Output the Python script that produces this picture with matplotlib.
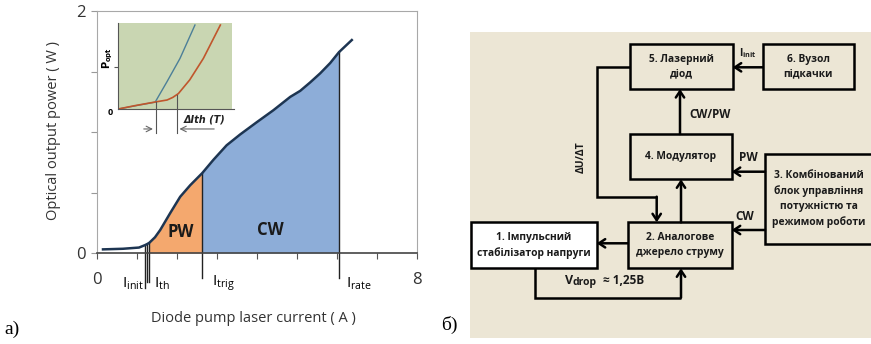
import numpy as np
import matplotlib
matplotlib.use("Agg")
import matplotlib.pyplot as plt

plt.rcParams['font.family'] = ['Open Sans', 'DejaVu Sans']

# --- a) laser diode power vs pump current ---
cur_x = np.array([0.15, 0.65, 1.05, 1.2, 1.26, 1.31, 1.45, 1.58, 1.83, 2.08, 2.33, 2.63,
                  2.91, 3.24, 3.58, 3.99, 4.41, 4.83, 5.08, 5.33, 5.58, 5.83, 6.05, 6.37])
cur_y = np.array([0.03, 0.035, 0.045, 0.065, 0.075, 0.085, 0.13, 0.19, 0.33, 0.465, 0.56, 0.66,
                  0.77, 0.89, 0.98, 1.08, 1.18, 1.29, 1.34, 1.41, 1.485, 1.57, 1.66, 1.76])
i_init, i_th1, i_th2, i_trig, i_rate = 1.2, 1.26, 1.31, 2.63, 6.05

# inset: P_opt(I) at two temperatures (relative units)
ins_blue_x = [0.0, 0.2, 0.325, 0.43, 0.544, 0.676]
ins_blue_y = [0.0, 0.05, 0.08, 0.32, 0.59, 0.98]
ins_red_x = [0.0, 0.15, 0.34, 0.43, 0.48, 0.53, 0.63, 0.75, 0.9]
ins_red_y = [0.0, 0.04, 0.085, 0.105, 0.135, 0.18, 0.34, 0.59, 0.98]

fig = plt.figure(figsize=(8.71, 3.44), dpi=100)

ax = fig.add_axes([97 / 871, 91 / 344, 320 / 871, 242 / 344])
ax.plot(cur_x, cur_y, color='#1d3552', lw=1.8, zorder=4, solid_joinstyle='round')
m1 = (cur_x >= i_th2) & (cur_x <= i_trig)
m2 = (cur_x >= i_trig) & (cur_x <= i_rate)
ax.fill_between(cur_x[m1], 0, cur_y[m1], color='#f4a86e', lw=0)
ax.fill_between(cur_x[m2], 0, cur_y[m2], color='#8dadd8', lw=0)
ax.set_xlim(0, 8)
ax.set_ylim(0, 2)

# marker lines
ax.plot([i_init, i_init], [-0.29, 0.065], color='#222', lw=1, clip_on=False)
ax.plot([i_th1, i_th1], [-0.24, 0.075], color='#222', lw=1, clip_on=False)
ax.plot([i_th2, i_th2], [-0.24, 0.085], color='#222', lw=1, clip_on=False)
ax.plot([i_trig, i_trig], [-0.21, 0.66], color='#222', lw=1, clip_on=False)
ax.plot([i_rate, i_rate], [-0.21, 1.66], color='#222', lw=1, clip_on=False)
ax.text(1.17, -0.25, r'I$_{\mathregular{init}}$', ha='right', va='center', fontsize=11)
ax.text(1.42, -0.25, r'I$_{\mathregular{th}}$', ha='left', va='center', fontsize=11)
ax.text(2.88, -0.25, r'I$_{\mathregular{trig}}$', ha='left', va='center', fontsize=11)
ax.text(6.22, -0.25, r'I$_{\mathregular{rate}}$', ha='left', va='center', fontsize=11)

ax.text(2.1, 0.17, 'PW', ha='center', va='center', fontsize=12, fontweight='bold', color='#1a1a1a')
ax.text(4.33, 0.19, 'CW', ha='center', va='center', fontsize=12, fontweight='bold', color='#1a1a1a')

for s in ['top', 'right', 'left']:
    ax.spines[s].set_color('#a8a8a8')
ax.spines['bottom'].set_color('#444')
ax.spines['bottom'].set_linewidth(1.2)
ax.set_xticks(range(9))
ax.set_xticklabels(['0', '', '', '', '', '', '', '', '8'])
ax.set_yticks([0, 0.5, 1, 1.5, 2])
ax.set_yticklabels(['0', '', '', '', '2'])
ax.tick_params(axis='x', length=4, color='#555', pad=10, labelsize=12, labelcolor='#333')
ax.tick_params(axis='y', length=4, color='#999', pad=4, labelsize=12, labelcolor='#333')
ax.set_xlabel('Diode pump laser current ( A )', fontsize=10.5, color='#333')
ax.xaxis.set_label_coords(0.4875, -0.238)
ax.set_ylabel('Optical output power ( W )', fontsize=10.5, color='#333')
ax.yaxis.set_label_coords(-0.112, 0.508)

# inset
ins = fig.add_axes([118.3 / 871, 235 / 344, 113.4 / 871, 85.7 / 344])
ins.set_facecolor('#c9d6b2')
ins.plot(ins_blue_x, ins_blue_y, color='#4c7f98', lw=1)
ins.plot(ins_red_x, ins_red_y, color='#c0562c', lw=1.2)
ins.set_xlim(0, 1)
ins.set_ylim(0, 1)
ins.spines['top'].set_visible(False)
ins.spines['right'].set_visible(False)
ins.spines['left'].set_color('#555')
ins.spines['bottom'].set_color('#555')
ins.spines['bottom'].set_bounds(0, 1.02)
ins.set_xticks([])
ins.set_yticks([0.49])
ins.set_yticklabels([''])
ins.tick_params(axis='y', length=3, color='#555')
ins.text(-0.07, -0.04, '0', ha='center', va='center', fontsize=6.5, fontweight='bold')
ins.text(-0.09, 0.6, r'$\mathbf{P_{opt}}$', rotation=90, ha='center', va='center', fontsize=7)
ins.plot([0.33, 0.33], [-0.28, 0.085], color='#555', lw=0.8, clip_on=False)
ins.plot([0.515, 0.515], [-0.28, 0.16], color='#555', lw=0.8, clip_on=False)
ins.annotate('', xy=(0.33, -0.233), xytext=(0.2, -0.233), annotation_clip=False,
             arrowprops=dict(arrowstyle='->', color='#666', lw=0.8))
ins.annotate('', xy=(0.515, -0.233), xytext=(0.87, -0.233), annotation_clip=False,
             arrowprops=dict(arrowstyle='->', color='#666', lw=0.8))
ins.text(0.76, -0.12, 'ΔIth (T)', ha='center', va='center', fontsize=7,
         family='DejaVu Sans', style='italic', fontweight='bold', color='#222')

# --- б) block diagram, drawn in pixel coordinates ---
dg = fig.add_axes([0, 0, 1, 1], zorder=-1)
dg.set_xlim(0, 871)
dg.set_ylim(344, 0)
dg.axis('off')

bg = '#ece6d5'
dg.add_patch(plt.Rectangle((470, 32), 401, 306, color=bg, lw=0))

boxes = [
    ((630, 44.3, 102.7, 44.7), '5. Лазерний\nдіод', bg),
    ((762.7, 44.3, 91.3, 44.7), '6. Вузол\nпідкачки', bg),
    ((630, 134, 101.7, 45.3), '4. Модулятор', bg),
    ((765, 154.3, 110, 89.7), '3. Комбінований\nблок управління\nпотужністю та\nрежимом роботи', bg),
    ((627.7, 222.3, 104, 46), '2. Аналогове\nджерело струму', bg),
    ((470.5, 222.3, 126.2, 46), '1. Імпульсний\nстабілізатор напруги', 'white'),
]
for (x0, y0, w, h), label, fc in boxes:
    dg.add_patch(plt.Rectangle((x0, y0), w, h, facecolor=fc, edgecolor='black', lw=1.8, zorder=2))
    cx = x0 + w / 2 if x0 + w <= 871 else (x0 + 871) / 2 + 1
    dg.text(cx, y0 + h / 2, label, ha='center', va='center', fontsize=7.4,
            fontweight='bold', color='#1a1a1a', linespacing=1.45, zorder=3)

arr = dict(arrowstyle='->,head_length=0.45,head_width=0.3', color='black', lw=1.8,
           shrinkA=0, shrinkB=0)
arrows = [
    ((762.7, 67.3), (732.7, 67.3)),
    ((680, 134), (680, 89)),
    ((681, 222.3), (681, 179.3)),
    ((765, 171.7), (731.7, 171.7)),
    ((765, 230), (731.7, 230)),
    ((627.7, 243.3), (596.7, 243.3)),
    ((656.7, 196.7), (656.7, 222.3)),
    ((681, 297.7), (681, 268.3)),
]
for start, end in arrows:
    dg.annotate('', xy=end, xytext=start, arrowprops=arr, zorder=3)
dg.plot([630, 597.3, 597.3, 656.7], [67.3, 67.3, 196.7, 196.7], color='black', lw=1.8,
        solid_capstyle='butt', solid_joinstyle='miter')
dg.plot([535, 535, 681], [268.3, 297.7, 297.7], color='black', lw=1.8,
        solid_capstyle='butt', solid_joinstyle='miter')

lab = dict(fontweight='bold', color='#1a1a1a', va='center')
dg.text(748, 53, r'I$_{\mathregular{init}}$', ha='center', fontsize=7.5, **lab)
dg.text(710, 114.5, 'CW/PW', ha='center', fontsize=8.3, **lab)
dg.text(748.5, 157.5, 'PW', ha='center', fontsize=8.5, **lab)
dg.text(745, 216.5, 'CW', ha='center', fontsize=8.5, **lab)
dg.text(581, 157, 'ΔU/ΔT', ha='center', rotation=90, fontsize=7.5, **lab)
dg.text(564.5, 281, 'V', ha='left', fontsize=9, **lab)
dg.text(572.5, 282, 'drop', ha='left', fontsize=7.5, **lab)
dg.text(603, 281, '≈ 1,25В', ha='left', fontsize=8.5, **lab)

dg.text(4, 329, 'а)', ha='left', va='center', fontsize=14, family='Liberation Serif')
dg.text(441, 325, 'б)', ha='left', va='center', fontsize=14, family='Liberation Serif')

fig.savefig('out.png', dpi=100)
